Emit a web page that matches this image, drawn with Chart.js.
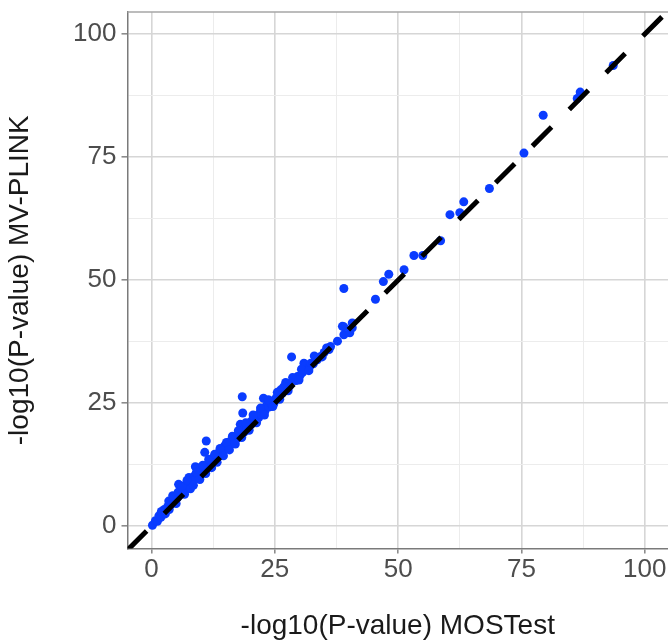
<!DOCTYPE html>
<html>
<head>
<meta charset="utf-8">
<script src="https://cdn.jsdelivr.net/npm/chart.js@4.4.1/dist/chart.umd.min.js"></script>
<style>
  html, body { margin: 0; padding: 0; background: #fff; }
  #wrap { width: 668px; height: 643px; }
</style>
</head>
<body>
<div id="wrap"><canvas id="chart"></canvas></div>
<script>
  // -log10(P) from MOSTest (x) vs MV-PLINK (y)
  var mostest = [
    0.2, 0.8, 1.2, 1.5, 1.9, 2.3, 2.6, 3.0, 3.3, 3.5, 3.8, 4.1, 4.4, 4.6, 4.9, 5.2,
    5.5, 5.6, 5.8, 6.0, 6.3, 6.5, 6.8, 7.0, 7.3, 7.6, 7.7, 8.0, 8.2, 8.4, 8.7, 8.9,
    9.0, 9.2, 9.4, 9.6, 9.9, 10.1, 10.3, 10.6, 10.8, 10.9, 11.1, 11.2, 11.5, 11.8,
    12.0, 12.3, 12.6, 12.9, 13.1, 13.4, 13.7, 14.0, 14.2, 14.5, 14.8, 15.0, 15.3,
    15.6, 15.9, 16.2, 16.5, 16.8, 17.1, 17.4, 17.7, 18.0, 18.1, 18.4, 18.5, 18.4,
    18.7, 19.0, 19.3, 19.6, 19.9, 20.2, 20.5, 20.9, 21.0, 21.4, 21.7, 22.0, 22.3,
    22.7, 22.6, 23.0, 23.3, 23.5, 23.8, 24.1, 24.4, 24.8, 24.9, 25.3, 25.7, 26.2,
    26.5, 27.0, 27.2, 27.5, 27.9, 28.4, 28.9, 29.3, 29.6, 30.1, 30.6, 30.9, 31.2,
    31.6, 32.0, 32.3, 32.8, 33.4, 33.6, 34.3, 35.0, 36.0, 36.3, 37.7, 38.7, 39.0,
    39.0, 40.2, 40.7, 40.7, 39.0, 45.4, 47.0, 48.1, 51.2, 53.2, 55.0, 58.6, 60.5,
    62.5, 63.3, 68.5, 75.5, 79.4, 86.3, 86.9, 93.6,
    2.0, 2.8, 3.6, 4.3, 5.0, 5.4, 6.2, 6.7, 7.2, 7.9, 8.5, 9.1, 9.8, 10.4, 11.0,
    11.6, 12.2, 12.8, 13.3, 13.9, 14.6, 15.2, 15.8, 16.4, 17.0, 17.6, 18.3, 19.1,
    19.8, 20.6, 21.3, 22.1, 22.9, 23.7, 24.6, 25.5, 26.0, 26.8, 27.7, 28.6, 29.9,
    30.4, 31.9, 33.0, 34.6, 35.5
  ];
  var mvplink = [
    0.2, 1.1, 1.0, 2.1, 1.8, 2.6, 3.4, 3.1, 4.0, 5.1, 4.3, 4.9, 5.6, 4.8, 6.0, 5.7,
    8.5, 6.6, 8.2, 7.1, 6.8, 7.6, 8.3, 7.4, 8.6, 9.9, 8.5, 9.1, 8.7, 9.8, 10.2, 12.1,
    9.6, 11.9, 10.5, 10.1, 11.0, 10.7, 11.6, 11.3, 15.0, 12.2, 17.3, 11.8, 12.7, 12.4,
    13.3, 12.9, 13.9, 13.5, 14.5, 14.1, 15.0, 14.7, 15.6, 15.2, 16.3, 15.7, 16.6,
    16.1, 17.2, 16.8, 17.8, 17.3, 18.3, 17.9, 18.8, 20.7, 18.4, 19.5, 23.0, 26.3,
    19.0, 20.1, 19.7, 20.8, 20.4, 21.3, 20.9, 22.2, 21.6, 22.5, 22.0, 23.1, 22.7,
    26.0, 23.7, 23.4, 24.5, 24.6, 24.2, 25.0, 24.8, 24.9, 25.6, 26.1, 26.3, 27.7,
    27.0, 27.5, 29.2, 29.0, 28.4, 34.4, 29.7, 29.6, 30.4, 30.6, 31.2, 33.1, 32.8,
    31.8, 32.3, 33.1, 33.0, 33.9, 33.8, 34.5, 35.3, 35.9, 36.5, 37.6, 40.6, 38.9,
    40.5, 39.3, 40.3, 41.3, 48.3, 46.1, 49.7, 51.2, 52.1, 55.0, 55.0, 58.0, 63.3,
    63.7, 65.9, 68.6, 75.8, 83.5, 86.9, 88.2, 93.6,
    3.0, 2.5, 3.4, 6.2, 4.6, 6.9, 8.0, 6.5, 9.3, 7.6, 8.3, 10.9, 9.5, 12.4, 10.7,
    13.6, 11.9, 14.6, 13.0, 15.8, 14.3, 17.0, 15.5, 18.3, 16.7, 19.4, 18.0, 21.0,
    19.5, 22.6, 21.0, 24.0, 22.6, 25.7, 24.3, 27.2, 25.8, 28.3, 27.5, 30.2, 29.7,
    31.9, 31.6, 34.6, 34.4, 36.2
  ];
  var diagonal = [-4.86, 110];
  var tickValues = [0, 25, 50, 75, 100];
  var tickLabels = ['0', '25', '50', '75', '100'];

  var points = [];
  for (var i = 0; i < mostest.length; i++) {
      points.push({ x: mostest[i], y: mvplink[i] });
  }
  var refLine = diagonal.map(function(v) { return { x: v, y: v }; });

  // major lines at the labelled values, minor lines half way between them
  function setGrid(scale) {
      var t = [];
      tickValues.forEach(function(v, k) {
          t.push({ value: v, major: true, label: tickLabels[k] });
          if (k < tickValues.length - 1) {
              t.push({ value: (v + tickValues[k + 1]) / 2, major: false, label: '' });
          }
      });
      scale.ticks = t;
  }
  function isMajor(ctx) { return ctx.tick && ctx.tick.major; }
  function gridColor(ctx) { return isMajor(ctx) ? '#d6d6d6' : '#ececec'; }
  function gridWidth(ctx) { return isMajor(ctx) ? 1.6 : 1; }
  function tickMarkColor(ctx) { return isMajor(ctx) ? '#8c8c8c' : 'rgba(0,0,0,0)'; }
  function tickText(v, idx, ticks) { return ticks[idx].label; }

  var topBorder = {
      id: 'topBorder',
      afterDraw: function(chart) {
          var a = chart.chartArea, c = chart.ctx;
          c.save();
          c.strokeStyle = '#a6a6a6';
          c.lineWidth = 1.5;
          c.beginPath();
          c.moveTo(a.left, a.top);
          c.lineTo(a.right, a.top);
          c.stroke();
          c.restore();
      }
  };

  var tickFont = { family: '"Liberation Sans", Arial, sans-serif', size: 26 };
  var titleFont = { family: '"Liberation Sans", Arial, sans-serif', size: 28 };

  new Chart(document.getElementById('chart'), {
      type: 'scatter',
      data: {
          datasets: [
              {
                  type: 'line',
                  data: refLine,
                  borderColor: '#000',
                  borderWidth: 5,
                  borderDash: [27, 25],
                  borderCapStyle: 'butt',
                  pointRadius: 0,
                  fill: false,
                  clip: 0,
                  order: 0
              },
              {
                  data: points,
                  backgroundColor: '#0a3cff',
                  borderWidth: 0,
                  pointRadius: 4.5,
                  order: 1
              }
          ]
      },
      options: {
          responsive: true,
          maintainAspectRatio: false,
          animation: false,
          layout: { padding: { top: 12, right: 0, bottom: 0, left: 0 }, autoPadding: false },
          plugins: { legend: { display: false }, tooltip: { enabled: false } },
          scales: {
              x: {
                  type: 'linear',
                  min: -4.86,
                  max: 104.7,
                  afterBuildTicks: setGrid,
                  afterFit: function(s) { s.height = 94.5; s.paddingLeft = 0; s.paddingRight = 0; },
                  ticks: { color: '#4d4d4d', font: tickFont, padding: 1,
                           maxRotation: 0, autoSkip: false, callback: tickText },
                  grid: { color: gridColor, lineWidth: gridWidth, tickColor: tickMarkColor, tickLength: 5 },
                  border: { color: '#7a7a7a', width: 1.5 },
                  title: { display: true, text: '-log10(P-value) MOSTest', color: '#1a1a1a',
                           font: titleFont, padding: { top: 0, bottom: 0 } }
              },
              y: {
                  type: 'linear',
                  min: -4.53,
                  max: 104.47,
                  afterBuildTicks: setGrid,
                  afterFit: function(s) { s.width = 127.5; s.paddingTop = 0; s.paddingBottom = 0; },
                  ticks: { color: '#4d4d4d', font: tickFont, padding: 5,
                           autoSkip: false, callback: tickText },
                  grid: { color: gridColor, lineWidth: gridWidth, tickColor: tickMarkColor, tickLength: 6 },
                  border: { color: '#7a7a7a', width: 1.5 },
                  title: { display: true, text: '-log10(P-value) MV-PLINK', color: '#1a1a1a',
                           font: titleFont, padding: { top: 3, bottom: 0 } }
              }
          }
      },
      plugins: [topBorder]
  });
</script>
</body>
</html>
